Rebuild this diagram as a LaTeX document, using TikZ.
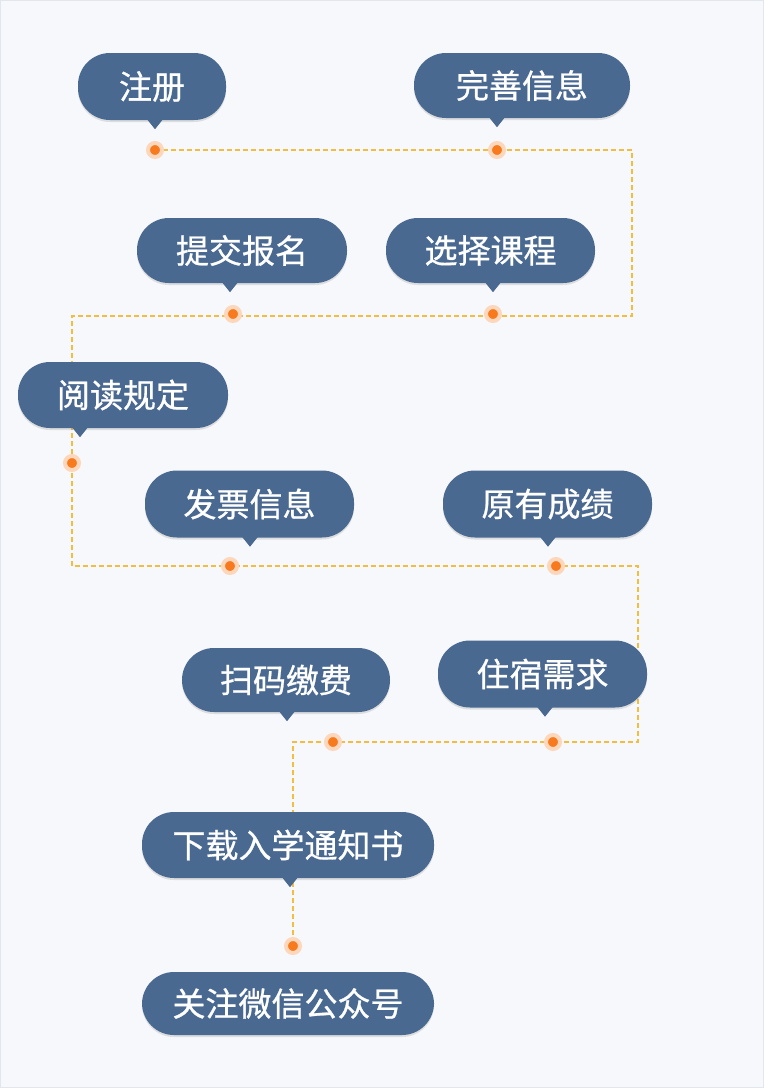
\documentclass[tikz,border=0pt]{standalone}
\usepackage{fontspec}
\setmainfont{Noto Sans CJK SC}
\newfontfamily\bubfont[FakeBold=0.8]{Noto Sans CJK SC}
\usetikzlibrary{shadows,calc}
\definecolor{bgc}{RGB}{246,248,251}
\definecolor{framec}{RGB}{226,231,238}
\definecolor{bubc}{RGB}{74,105,145}
\definecolor{linec}{RGB}{243,190,64}
\definecolor{dotc}{RGB}{247,122,30}
\pgfdeclarelayer{bg}
\pgfdeclarelayer{lines}
\pgfsetlayers{bg,lines,main}
\tikzset{
  bubble/.style={fill=bubc, text=white, rounded corners=32pt, inner sep=0pt,
    minimum height=#1, font=\bubfont\fontsize{33}{36}\selectfont,
    drop shadow={opacity=0.22, shadow xshift=0pt, shadow yshift=-2pt}},
  bubble/.default=66pt,
  dot/.style={circle, fill=dotc, draw=dotc!30, line width=4pt, minimum size=14pt, inner sep=0pt},
  conn/.style={draw=linec, line width=1.4pt, dash pattern=on 5pt off 3pt},
}
\newcommand\bubtail[2]{\fill[bubc] ([xshift={#2pt-8pt}, yshift=1pt]#1.south) -- ([xshift={#2pt+8pt}, yshift=1pt]#1.south) -- ([xshift={#2pt}, yshift=-9pt]#1.south) -- cycle;}
\begin{document}
\begin{tikzpicture}[x=1pt,y=-1pt]
\begin{pgfonlayer}{bg}
\fill[bgc, draw=framec, line width=1pt] (0.5,0.5) rectangle (763.5,1087.5);
\end{pgfonlayer}
\useasboundingbox (0,0) rectangle (764,1088);
% bubbles
\node[bubble, minimum width=148pt, minimum height=67pt] (b1) at (152,86.5) {注册};
\node[bubble, minimum width=216pt, minimum height=65pt] (b2) at (522,85.5) {完善信息};
\node[bubble, minimum width=210pt, minimum height=65pt] (b3) at (242,250.5) {提交报名};
\node[bubble, minimum width=209pt, minimum height=65pt] (b4) at (490.5,250.5) {选择课程};
\node[bubble, minimum width=210pt, minimum height=66pt] (b5) at (123,395) {阅读规定};
\node[bubble, minimum width=209pt, minimum height=67pt] (b6) at (249.5,504) {发票信息};
\node[bubble, minimum width=209pt, minimum height=67pt] (b7) at (547.5,504) {原有成绩};
\node[bubble, minimum width=208pt, minimum height=64pt] (b8) at (286,680) {扫码缴费};
\node[bubble, minimum width=209pt, minimum height=67pt] (b9) at (542.5,674) {住宿需求};
\node[bubble, minimum width=292pt, minimum height=66pt] (b10) at (288,845) {下载入学通知书};
\node[bubble, minimum width=292pt, minimum height=63pt] (b11) at (288,1003.5) {关注微信公众号};
% tails
\bubtail{b1}{3}
\bubtail{b2}{-25}
\bubtail{b3}{-12}
\bubtail{b4}{2.5}
\bubtail{b5}{-43}
\bubtail{b6}{0.5}
\bubtail{b7}{0.5}
\bubtail{b8}{1}
\bubtail{b9}{2.5}
\bubtail{b10}{2}
% dots
\node[dot] (d1) at (155,150) {};
\node[dot] (d2) at (497,150) {};
\node[dot] (d3) at (233,314) {};
\node[dot] (d4) at (493,314) {};
\node[dot] (d5) at (72,463) {};
\node[dot] (d6) at (230,566) {};
\node[dot] (d7) at (556,566) {};
\node[dot] (d8) at (333,742) {};
\node[dot] (d9) at (553,742) {};
\node[dot] (d10) at (293,946) {};
% corners
\coordinate (c1) at (632,150);
\coordinate (c2) at (632,316);
\coordinate (c3) at (72,316);
\coordinate (c4) at (72,566);
\coordinate (c5) at (638,566);
\coordinate (c6) at (638,742);
\coordinate (c7) at (293,742);
\begin{pgfonlayer}{lines}
\draw[conn] (d1.center) -- (d2.center) -- (c1) -- (c2) -- (c3)
  -- (d5.center) -- (c4) -- (d6.center) -- (d7.center) -- (c5) -- (c6)
  -- (d9.center) -- (d8.center) -- (c7) -- (d10.center);
\end{pgfonlayer}
\end{tikzpicture}
\end{document}
